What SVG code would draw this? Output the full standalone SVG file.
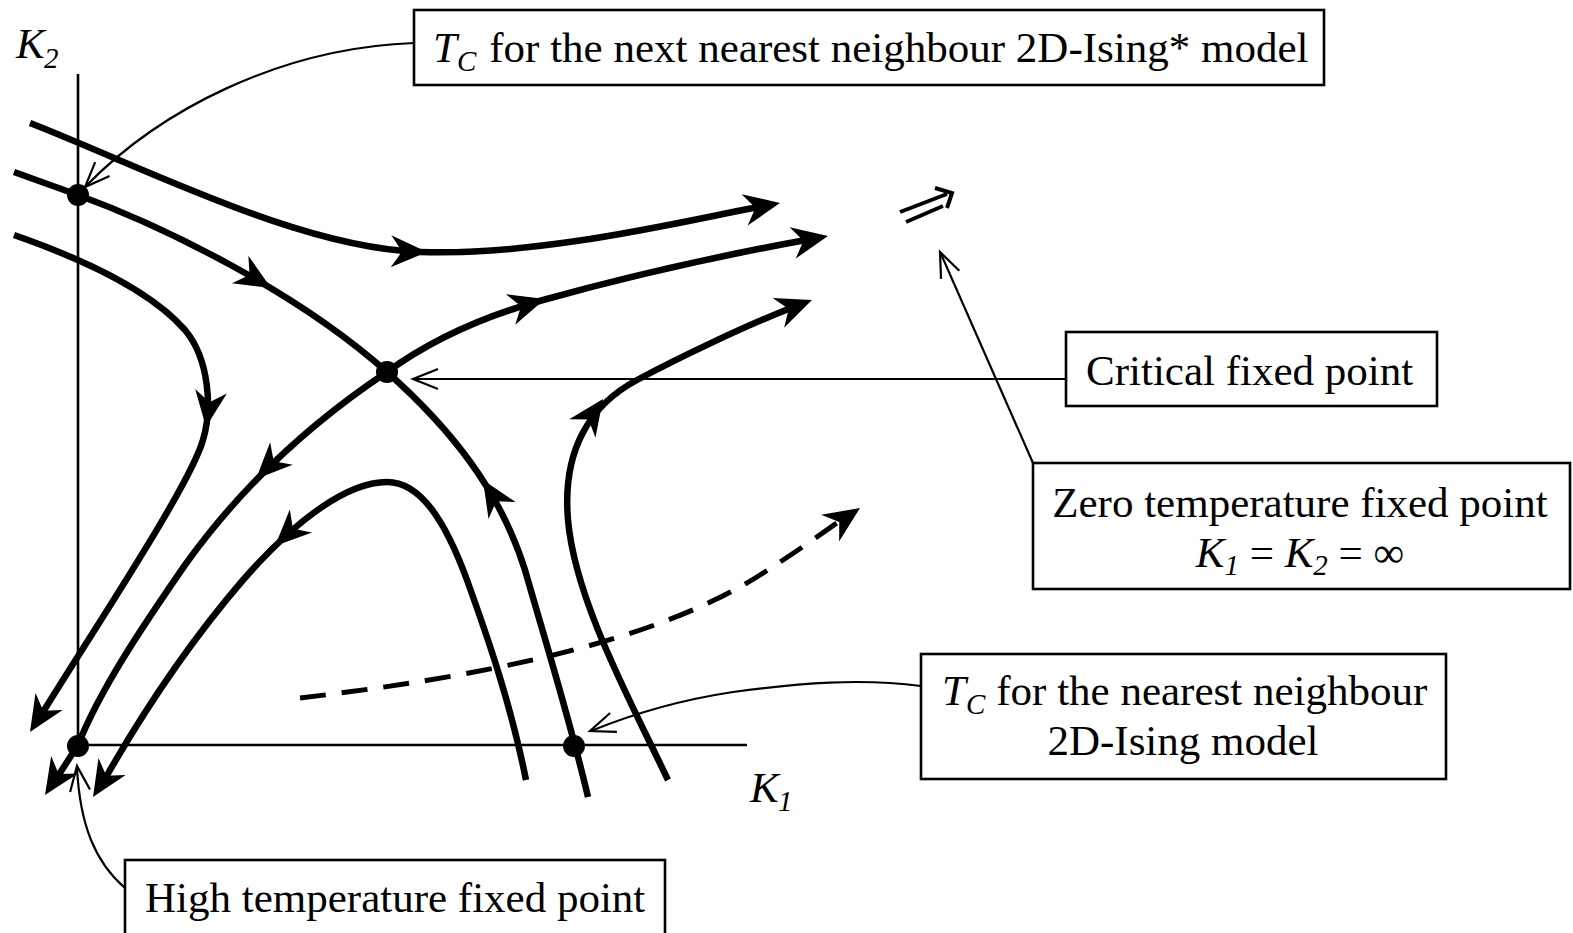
<svg xmlns="http://www.w3.org/2000/svg" width="1573" height="933" viewBox="0 0 1573 933">
<style>
.flow{fill:none;stroke:#000;stroke-width:6.5;stroke-linejoin:round}
.dash{fill:none;stroke:#000;stroke-width:5;stroke-dasharray:26 16}
.axis{fill:none;stroke:#000;stroke-width:2.6}
.lead{fill:none;stroke:#000;stroke-width:2.2}
.box{fill:#fff;stroke:#000;stroke-width:2.6}
.lbl{font-family:"Liberation Serif","Times New Roman",serif;font-size:43px;fill:#000}
.it{font-style:italic}
.sub{font-size:29px;font-style:italic}
.dot{fill:#000}
</style>
<defs>
<path id="ah" d="M0,0 L-36,-16 L-25,0 L-36,16 Z" fill="#000"/>
<path id="oh" d="M-25,-10 L0,0 L-25,10" fill="none" stroke="#000" stroke-width="2.2"/>
</defs>
<rect width="1573" height="933" fill="#fff"/>

<g id="axes">
<line class="axis" x1="78" y1="74" x2="78" y2="746"/>
<line class="axis" x1="78" y1="745" x2="747" y2="745"/>
<text class="lbl it" x="16" y="58">K</text><text class="lbl sub" x="44" y="68">2</text>
<text class="lbl it" x="750" y="802">K</text><text class="lbl sub" x="778" y="811">1</text>
</g>

<g id="connectors">
<path class="flow" d="M30,123 C150,170 300,248 420,252 C540,256 680,222 758,207"/>
<use href="#ah" transform="translate(427,252) rotate(1)"/>
<use href="#ah" transform="translate(780,203) rotate(-11)"/>

<path class="flow" d="M14,172 L78,195 C160,225 295,290 387,372 C450,428 500,490 525,570 C545,640 570,720 588,797"/>
<use href="#ah" transform="translate(271,288) rotate(31)"/>
<use href="#ah" transform="translate(483,480) rotate(-122)"/>

<path class="flow" d="M387,372 C420,348 470,320 543,300 C640,273 740,252 806,240"/>
<use href="#ah" transform="translate(545,299) rotate(-17)"/>
<use href="#ah" transform="translate(828,236) rotate(-11)"/>

<path class="flow" d="M387,372 C300,430 235,495 185,565 C140,630 100,690 78,745 L58,776"/>
<use href="#ah" transform="translate(256,479) rotate(135)"/>
<use href="#ah" transform="translate(45,795) rotate(123)"/>

<path class="flow" d="M14,235 C80,258 150,290 185,330 C210,360 212,410 203,440 C190,485 100,620 43,712"/>
<use href="#ah" transform="translate(206,427) rotate(98)"/>
<use href="#ah" transform="translate(30,732) rotate(122)"/>

<path class="flow" d="M526,780 C510,700 485,630 467,580 C445,520 420,482 387,482 C350,482 300,515 243,580 C200,630 150,700 106,777"/>
<use href="#ah" transform="translate(275,546) rotate(136)"/>
<use href="#ah" transform="translate(93,797) rotate(122)"/>

<path class="flow" d="M668,780 C630,700 575,600 568,520 C562,450 590,405 637,380 C680,357 745,326 791,308"/>
<use href="#ah" transform="translate(603,399) rotate(-55)"/>
<use href="#ah" transform="translate(812,300) rotate(-21)"/>

<path class="dash" d="M300,698 C470,678 650,645 760,575 C790,556 820,535 841,520"/>
<use href="#ah" transform="translate(860,508) rotate(-34)"/>

<path d="M900,212 L947,194 M906,222 L943,206 M935,188 L952,193 L947,208" fill="none" stroke="#000" stroke-width="4" stroke-linejoin="miter"/>

<path class="lead" d="M414,43 C280,48 160,110 86,186"/>
<use href="#oh" transform="translate(85,187) rotate(134)"/>
<path class="lead" d="M1066,379 L414,379"/>
<use href="#oh" transform="translate(413,379) rotate(180)"/>
<path class="lead" d="M1033,463 L941,254"/>
<use href="#oh" transform="translate(940,252) rotate(-114)"/>
<path class="lead" d="M921,686 C860,678 800,683 733,692 C680,700 630,715 591,731"/>
<use href="#oh" transform="translate(590,731) rotate(160)"/>
<path class="lead" d="M125,888 C95,862 80,825 77,768"/>
<use href="#oh" transform="translate(77,766) rotate(-97)"/>
</g>

<g id="fp-next-nearest"><circle class="dot" cx="78" cy="195" r="11"/></g>
<g id="fp-critical"><circle class="dot" cx="387" cy="372" r="11"/></g>
<g id="fp-high-temp"><circle class="dot" cx="78" cy="746" r="11"/></g>
<g id="fp-nearest"><circle class="dot" cx="574" cy="746" r="11"/></g>

<g id="label-next-nearest">
<rect class="box" x="414" y="10" width="910" height="75"/>
<text class="lbl" x="433" y="62"><tspan class="it">T</tspan><tspan class="sub" dy="9">C</tspan><tspan dy="-9" dx="13">for the next nearest neighbour 2D-Ising* model</tspan></text>
</g>

<g id="label-critical">
<rect class="box" x="1066" y="332" width="371" height="74"/>
<text class="lbl" x="1086" y="385">Critical fixed point</text>
</g>

<g id="label-zero-temp">
<rect class="box" x="1033" y="463" width="537" height="126"/>
<text class="lbl" x="1300" y="517" text-anchor="middle">Zero temperature fixed point</text>
<text class="lbl" x="1300" y="567" text-anchor="middle"><tspan class="it">K</tspan><tspan class="sub" dy="8">1</tspan><tspan dy="-8"> = </tspan><tspan class="it">K</tspan><tspan class="sub" dy="8">2</tspan><tspan dy="-8"> = ∞</tspan></text>
</g>

<g id="label-nearest">
<rect class="box" x="921" y="654" width="525" height="125"/>
<text class="lbl" x="942" y="705"><tspan class="it">T</tspan><tspan class="sub" dy="9">C</tspan><tspan dy="-9" dx="11">for the nearest neighbour</tspan></text>
<text class="lbl" x="1183" y="755" text-anchor="middle">2D-Ising model</text>
</g>

<g id="label-high-temp">
<rect class="box" x="125" y="860" width="540" height="80"/>
<text class="lbl" x="145" y="912">High temperature fixed point</text>
</g>
</svg>
